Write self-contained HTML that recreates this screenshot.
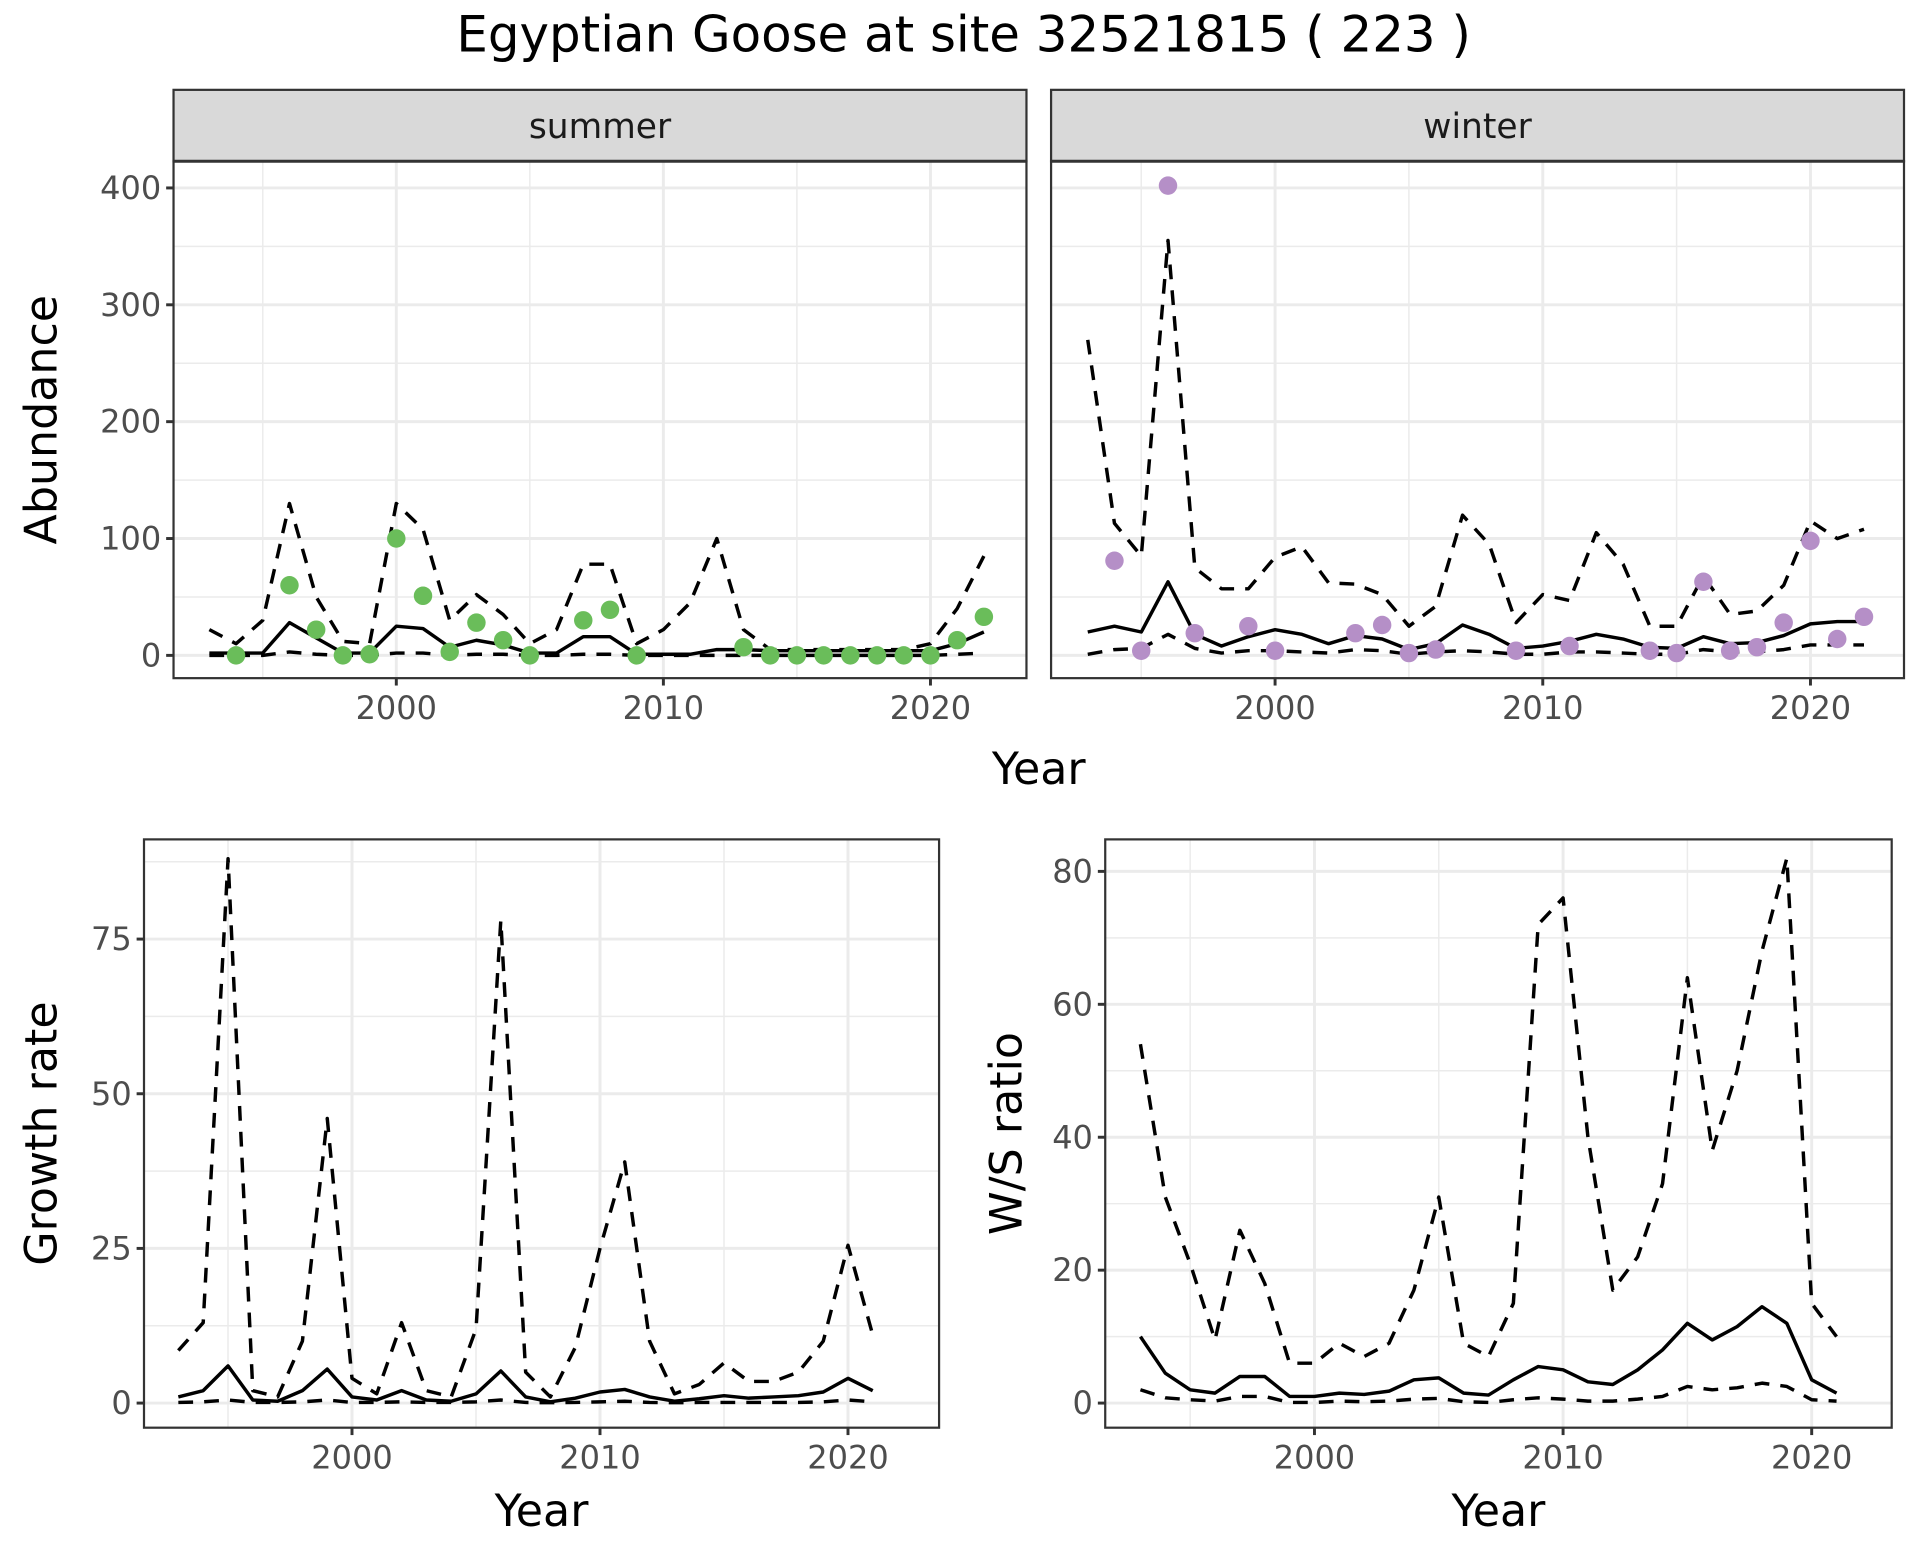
<!DOCTYPE html>
<html><head><meta charset="utf-8"><style>
html,body{margin:0;padding:0;background:#fff;}
svg{display:block;font-family:"DejaVu Sans","Liberation Sans",sans-serif;}
</style></head><body>
<svg id="chart" width="1920" height="1560" viewBox="0 0 1560 1267.5" xmlns="http://www.w3.org/2000/svg">
<rect width="1560" height="1267.5" fill="#fff"/>
<text x="783" y="42" font-size="40.5" text-anchor="middle" fill="#000">Egyptian Goose at site 32521815 ( 223 )</text>
<g id="g"></g>
</svg>
<script>
const sYears=[1993,1994,1995,1996,1997,1998,1999,2000,2001,2002,2003,2004,2005,2006,2007,2008,2009,2010,2011,2012,2013,2014,2015,2016,2017,2018,2019,2020,2021,2022];
const summerMean=[2,2,2,28,15,2,2,25,23,7,13,9,2,2,16,16,1,1,1,5,5,4,4,4,4,4,4,4,10,20];
const summerUpper=[22,10,30,130,50,12,10,130,108,30,52,35,10,22,78,78,10,22,45,100,22,5,5,5,5,5,5,10,40,85];
const summerLower=[0,0,0,3,1,0,0,2,2,0,1,1,0,0,1,1,0,0,0,0,0,0,0,0,0,0,0,0,1,2];
const summerPtYears=[1994,1996,1997,1998,1999,2000,2001,2002,2003,2004,2005,2007,2008,2009,2013,2014,2015,2016,2017,2018,2019,2020,2021,2022];
const summerPts=[0,60,22,0,1,100,51,3,28,13,0,30,39,0,7,0,0,0,0,0,0,0,13,33];
const winterMean=[20,25,20,63,18,8,16,22,18,10,17,14,5,10,26,18,6,8,12,18,14,7,6,16,10,11,17,27,29,29];
const winterUpper=[270,113,85,355,75,57,57,84,93,62,61,52,25,42,120,95,28,52,47,105,78,25,25,68,35,38,60,115,100,108];
const winterLower=[1,5,6,18,6,2,4,4,3,2,5,4,1,3,4,3,1,1,3,3,2,1,1,5,3,3,5,9,9,9];
const winterPtYears=[1994,1995,1996,1997,1999,2000,2003,2004,2005,2006,2009,2011,2014,2015,2016,2017,2018,2019,2020,2021,2022];
const winterPts=[81,4,402,19,25,4,19,26,2,5,4,8,4,2,63,4,7,28,98,14,33];
const gYears=[1993,1994,1995,1996,1997,1998,1999,2000,2001,2002,2003,2004,2005,2006,2007,2008,2009,2010,2011,2012,2013,2014,2015,2016,2017,2018,2019,2020,2021];
const growthMean=[1,2,6,0.5,0.3,2,5.5,1,0.5,2,0.5,0.3,1.5,5.2,1,0.2,0.8,1.8,2.2,1,0.3,0.7,1.2,0.8,1,1.2,1.8,4,2];
const growthUpper=[8.5,13,88,2,1,10,46,4,1.5,13,2,1,12,78,5,1,9,25,39,10,1.5,3,6.5,3.5,3.5,5,10,25.5,11];
const growthLower=[0.1,0.2,0.5,0.1,0.1,0.2,0.5,0.1,0.1,0.2,0.1,0.1,0.2,0.5,0.1,0.05,0.1,0.2,0.3,0.1,0.05,0.1,0.1,0.1,0.1,0.1,0.2,0.5,0.2];
const wsMean=[10,4.5,2,1.5,4,4,1,1,1.5,1.3,1.8,3.5,3.8,1.5,1.2,3.5,5.5,5,3.2,2.8,5,8,12,9.5,11.5,14.5,12,3.5,1.5];
const wsUpper=[54,31,21,9.5,26,18,6,6,9,7,9,17,31,9,7,15,72,76,40,17,22,33,64,38,50,68,82,15,10];
const wsLower=[2,0.8,0.5,0.3,1,1,0.1,0.1,0.3,0.2,0.3,0.6,0.7,0.2,0.1,0.5,0.8,0.6,0.3,0.3,0.6,1,2.5,2,2.3,3,2.5,0.5,0.3];
const xTicks=[2000,2010,2020];
const abTicks=[0,100,200,300,400];
const grTicks=[0,25,50,75];
const wsTicks=[0,20,40,60,80];

const NS="http://www.w3.org/2000/svg";
const G=document.getElementById('g');
function el(t,a,p){const e=document.createElementNS(NS,t);for(const k in a)e.setAttribute(k,a[k]);(p||G).appendChild(e);return e;}
function lin(d0,d1,r0,r1){return v=>r0+(v-d0)*(r1-r0)/(d1-d0);}

function panel(o){
  const x=lin(2000,2020,o.x2000,o.x2020), y=lin(0,o.yRef,o.y0,o.yRefPx);
  const grp=el('g',{});
  
  
  el('rect',{x:o.L,y:o.T,width:o.R-o.L,height:o.B-o.T,fill:'#fff'},grp);
  for(let v=1995;v<=2025;v+=10){const px=x(v);if(px>o.L&&px<o.R)el('line',{x1:px,x2:px,y1:o.T,y2:o.B,stroke:'#ebebeb','stroke-width':1.2},grp);}
  for(let i=0;i<o.ticks.length;i++){const v=o.ticks[i]+o.minor;const py=y(v);if(py>o.T&&py<o.B)el('line',{x1:o.L,x2:o.R,y1:py,y2:py,stroke:'#ebebeb','stroke-width':1.2},grp);}
  {const py=y(o.ticks[0]-o.minor);if(py>o.T&&py<o.B)el('line',{x1:o.L,x2:o.R,y1:py,y2:py,stroke:'#ebebeb','stroke-width':1.2},grp);}
  xTicks.forEach(v=>{const px=x(v);el('line',{x1:px,x2:px,y1:o.T,y2:o.B,stroke:'#ebebeb','stroke-width':2.4},grp);});
  o.ticks.forEach(v=>{const py=y(v);el('line',{x1:o.L,x2:o.R,y1:py,y2:py,stroke:'#ebebeb','stroke-width':2.4},grp);});
  const path=(ys,arr,dash,name)=>{const d=ys.map((yr,i)=>(i?'L':'M')+x(yr).toFixed(1)+','+y(arr[i]).toFixed(1)).join('');
    const p=el('path',{d:d,fill:'none',stroke:'#000','stroke-width':2.8,'stroke-dasharray':dash?'12,9':'none','stroke-linejoin':'round'},grp);
    
    };
  path(o.years,o.upper,true,'upper-ci-line');
  path(o.years,o.lower,true,'lower-ci-line');
  path(o.years,o.mean,false,'mean-line');
  if(o.pts){o.ptYears.forEach((yr,i)=>{const c=el('circle',{cx:x(yr),cy:y(o.pts[i]),r:7.5,fill:o.color},grp);
    
    });}
  el('rect',{x:o.L,y:o.T,width:o.R-o.L,height:o.B-o.T,fill:'none',stroke:'#333','stroke-width':1.8},grp);
  xTicks.forEach(v=>{const px=x(v);el('line',{x1:px,x2:px,y1:o.B,y2:o.B+6,stroke:'#333','stroke-width':2.4},grp);
    const t=el('text',{x:px,y:o.B+33,'font-size':26,fill:'#4d4d4d','text-anchor':'middle'},grp);t.textContent=v;
    
    });
  if(o.yLabels){o.ticks.forEach(v=>{const py=y(v);el('line',{x1:o.L-6,x2:o.L,y1:py,y2:py,stroke:'#333','stroke-width':2.4},grp);
    const t=el('text',{x:o.L-10,y:py+9,'font-size':26,fill:'#4d4d4d','text-anchor':'end'},grp);t.textContent=v;
    
    });}
  if(o.strip){el('rect',{x:o.L,y:o.T-58,width:o.R-o.L,height:58,fill:'#d9d9d9',stroke:'#333','stroke-width':1.8},grp);
    el('line',{x1:o.L,x2:o.R,y1:o.T,y2:o.T,stroke:'#333','stroke-width':2.4},grp);
    const t=el('text',{x:(o.L+o.R)/2,y:o.T-19,'font-size':28,fill:'#1a1a1a','text-anchor':'middle'},grp);t.textContent=o.strip;
    
    }
  if(o.xTitle){const t=el('text',{x:(o.L+o.R)/2,y:o.B+80,'font-size':36,fill:'#000','text-anchor':'middle'},grp);t.textContent='Year';
    
    }
  if(o.yTitle){const cy=(o.T+o.B)/2;const t=el('text',{x:0,y:0,'font-size':36,fill:'#000','text-anchor':'middle',transform:`translate(${o.yTitleX},${cy}) rotate(-90)`},grp);t.textContent=o.yTitle;
    
    }
}
panel({name:'summer-panel',L:141,R:834,T:131,B:551,x2000:322,x2020:756,y0:532.5,yRef:400,yRefPx:152.7,ticks:abTicks,minor:50,years:sYears,mean:summerMean,upper:summerUpper,lower:summerLower,ptYears:summerPtYears,pts:summerPts,color:'#6abd5a',yLabels:true,strip:'summer',yTitle:'Abundance',yTitleX:46});
panel({name:'winter-panel',L:854,R:1547,T:131,B:551,x2000:1036,x2020:1471,y0:532.5,yRef:400,yRefPx:152.7,ticks:abTicks,minor:50,years:sYears,mean:winterMean,upper:winterUpper,lower:winterLower,ptYears:winterPtYears,pts:winterPts,color:'#b58fc7',yLabels:false,strip:'winter'});
(function(){const t=el('text',{x:844,y:637,'font-size':36,fill:'#000','text-anchor':'middle'});t.textContent='Year';

})();
panel({name:'growth-panel',L:117,R:763,T:682,B:1160,x2000:286,x2020:689,y0:1140,yRef:75,yRefPx:763,ticks:grTicks,minor:12.5,years:gYears,mean:growthMean,upper:growthUpper,lower:growthLower,yLabels:true,xTitle:true,yTitle:'Growth rate',yTitleX:46});
panel({name:'ws-ratio-panel',L:898,R:1537,T:682,B:1160,x2000:1068,x2020:1472,y0:1140,yRef:80,yRefPx:708,ticks:wsTicks,minor:10,years:gYears,mean:wsMean,upper:wsUpper,lower:wsLower,yLabels:true,xTitle:true,yTitle:'W/S ratio',yTitleX:830});
</script>
</body></html>
